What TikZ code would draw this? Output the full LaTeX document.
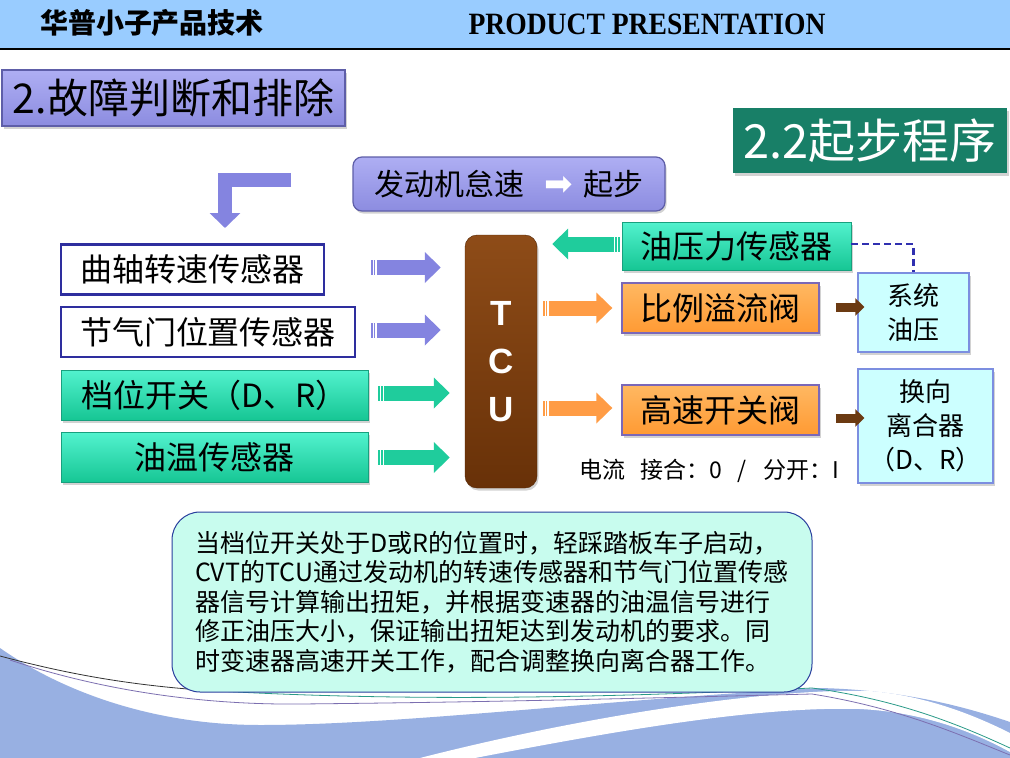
\documentclass[tikz,border=0pt]{standalone}
\usepackage{fontspec}
\setmainfont{Noto Sans CJK SC}
\newfontfamily\latinserif{Liberation Serif}
\newfontfamily\latinsans{Liberation Sans}
\newfontfamily\dingfont{DejaVu Sans}
\usetikzlibrary{arrows.meta,calc,shadows}
\definecolor{band}{HTML}{99CCFF}
\definecolor{lavtop}{HTML}{AEAEF3}
\definecolor{lavbot}{HTML}{8C8CE0}
\definecolor{lavedge}{HTML}{5E5EA8}
\definecolor{stepgreen}{HTML}{187F67}
\definecolor{sensorblue}{HTML}{2E2E9E}
\definecolor{greentop}{HTML}{52F2CE}
\definecolor{greenbot}{HTML}{16C694}
\definecolor{greenedge}{HTML}{18A07E}
\definecolor{orangetop}{HTML}{FFB862}
\definecolor{orangebot}{HTML}{FF9A33}
\definecolor{valveedge}{HTML}{7B68B8}
\definecolor{tcutop}{HTML}{8E4C18}
\definecolor{tcubot}{HTML}{683108}
\definecolor{infofill}{HTML}{CCFFFF}
\definecolor{infoedge}{HTML}{7C8EE0}
\definecolor{notefill}{HTML}{C8FCEE}
\definecolor{noteedge}{HTML}{2A3F9E}
\definecolor{arrowpurple}{HTML}{8484E0}
\definecolor{arrowgreen}{HTML}{1FCC9C}
\definecolor{arroworange}{HTML}{FF9C45}
\definecolor{arrowbrown}{HTML}{6B3A12}
\definecolor{dashblue}{HTML}{3030B0}
\definecolor{wave}{HTML}{98B0E2}
\definecolor{waveteal}{HTML}{2A9A88}
\definecolor{wavepurple}{HTML}{7C6FB0}
\newcommand{\setfs}[2]{\fontsize{#1}{#2}\selectfont}

\begin{document}
\begin{tikzpicture}[x=1pt,y=-1pt,
  every node/.style={inner sep=0pt},
  boxshadow/.style={drop shadow={shadow xshift=1.5pt,shadow yshift=-2.5pt,opacity=0.35}},
  sensorbox/.style={draw=sensorblue,line width=2.5pt,fill=white,minimum height=50pt,font=\setfs{32}{36}},
  greenbox/.style={draw=greenedge,line width=0.8pt,top color=greentop,bottom color=greenbot,minimum height=50pt,font=\setfs{32}{36},boxshadow},
  valvebox/.style={draw=valveedge,line width=1.3pt,top color=orangetop,bottom color=orangebot,minimum width=197pt,minimum height=50pt,font=\setfs{32}{36},boxshadow},
  infobox/.style={draw=infoedge,line width=1.2pt,fill=infofill,align=center,font=\setfs{26}{34},boxshadow},
  blockarrow/.style={line width=15pt,dash pattern=on 1.5pt off 1.2pt on 1.5pt off 1.5pt on 400pt,-{Triangle[length=16pt,width=30pt]}},
  brownarrow/.style={line width=9pt,draw=arrowbrown,-{Triangle[length=9pt,width=17pt]}},
]
  \fill[white] (0,0) rectangle (1010,758);
  \useasboundingbox (0,0) rectangle (1010,758);
  % bottom waves
  \fill[wave] (0,648) .. controls (60,690) and (150,725) .. (260,725)
    .. controls (400,725) and (600,700) .. (820,688)
    .. controls (900,690) and (960,705) .. (1010,722) -- (1010,758) -- (0,758) -- cycle;
  \fill[white] (420,758) .. controls (600,712) and (780,688) .. (870,691)
    .. controls (930,696) and (980,718) .. (1010,733) -- (1010,752)
    .. controls (970,730) and (920,712) .. (860,709)
    .. controls (760,706) and (620,730) .. (475,758) -- cycle;
  \draw[black!80,line width=0.8pt] (0,656) .. controls (60,672) and (120,684) .. (200,690);
  \draw[waveteal,line width=0.8pt] (200,690) .. controls (400,702) and (600,698) .. (812,688)
    .. controls (900,700) and (960,725) .. (1010,748);
  \draw[wavepurple,line width=0.8pt] (10,660) .. controls (100,690) and (200,705) .. (300,704)
    .. controls (500,702) and (650,698) .. (812,694)
    .. controls (900,708) and (960,735) .. (1010,755);
  % header
  \fill[band] (0,0) rectangle (1010,48);
  \draw[line width=1.5pt] (0,49) -- (1010,49);
  \node[font=\setfs{28}{28}\bfseries] (brand) at (152,23) {华普小子产品技术};
  \node (slogan) at (647,24) {\scalebox{0.89}[1]{\latinserif\bfseries\setfs{31}{31}PRODUCT PRESENTATION}};
  % titles
  \node[draw=lavedge,line width=1.5pt,top color=lavtop,bottom color=lavbot,minimum width=343pt,minimum height=56pt,font=\setfs{41}{41},boxshadow] (fault) at (173.5,98) {2.故障判断和排除};
  \node[fill=stepgreen,minimum width=274pt,minimum height=65pt,text=white,font=\setfs{47}{47},boxshadow] (start) at (870,140.5) {2.2起步程序};
  \node[draw=lavedge,line width=1.2pt,rounded corners=9pt,top color=lavtop,bottom color=lavbot,minimum width=312pt,minimum height=54pt,font=\setfs{30}{30},boxshadow] (idle) at (509,184)
    {发动机怠速\hspace{20pt}{\dingfont\color{white}\setfs{34}{34}➡}\hspace{10pt}起步};
  \coordinate (bendtail) at (291,180);
  \coordinate (bendtip) at (225,228);
  \draw[draw=arrowpurple,line width=14pt,line join=miter,-{Triangle[length=15pt,width=30pt]}] (bendtail) -| (bendtip);
  % inputs
  \node[sensorbox,minimum width=263pt] (crank) at (192.5,269.5) {曲轴转速传感器};
  \node[sensorbox,minimum width=294pt] (throttle) at (208,332) {节气门位置传感器};
  \node[greenbox,minimum width=307pt] (gear) at (214.5,395) {档位开关（D、R）};
  \node[greenbox,minimum width=307pt] (oiltemp) at (214.5,457.5) {油温传感器};
  % TCU
  \node[draw=tcubot!80!black,rounded corners=12pt,top color=tcutop,bottom color=tcubot,minimum width=72pt,minimum height=253pt,align=center,text=white,font=\latinsans\bfseries\setfs{35}{48},boxshadow] (tcu) at (501,361.5) {T\\C\\U};
  % outputs
  \node[greenbox,minimum width=229pt,minimum height=48pt] (press) at (736.5,246) {油压力传感器};
  \node[valvebox] (relief) at (720.5,308) {比例溢流阀};
  \node[valvebox] (hsv) at (720.5,410) {高速开关阀};
  \node[infobox,minimum width=111pt,minimum height=79pt] (sysp) at (913.5,312.5) {系统\\油压};
  \node[infobox,minimum width=135pt,minimum height=114pt] (clutch) at (925.5,426) {换向\\离合器\\（D、R）};
  \node[font=\setfs{23}{23}] (current) at (709,471) {电流\hspace{15pt}接合：0\hspace{16pt}/\hspace{16pt}分开：I};
  % arrows
  \draw[blockarrow,draw=arrowpurple,shorten <=46pt,shorten >=24pt] ([yshift=2pt]crank.east) -- ([yshift=2pt]crank.east -| tcu.west);
  \draw[blockarrow,draw=arrowpurple,shorten <=15pt,shorten >=24pt] ([yshift=2pt]throttle.east) -- ([yshift=2pt]throttle.east -| tcu.west);
  \draw[blockarrow,draw=arrowgreen,shorten <=10pt,shorten >=15pt] ([yshift=2pt]gear.east) -- ([yshift=2pt]gear.east -| tcu.west);
  \draw[blockarrow,draw=arrowgreen,shorten <=10pt,shorten >=15pt] (oiltemp.east) -- (oiltemp.east -| tcu.west);
  \draw[blockarrow,draw=arrowgreen,shorten <=2pt,shorten >=15pt] ([yshift=2pt]press.west) -- ([yshift=2pt]press.west -| tcu.east);
  \draw[blockarrow,draw=arroworange,shorten <=6pt,shorten >=9pt] (tcu.east |- relief.west) -- (relief.west);
  \draw[blockarrow,draw=arroworange,shorten <=6pt,shorten >=9pt] ([yshift=2pt]tcu.east |- hsv.west) -- ([yshift=2pt]hsv.west);
  \draw[brownarrow,shorten <=16pt,shorten >=-7pt] ([yshift=1pt]relief.east) -- ([yshift=1pt]relief.east -| sysp.west);
  \draw[brownarrow,shorten <=16pt,shorten >=-7pt] ([yshift=-8pt]hsv.east) -- ([yshift=-8pt]hsv.east -| clutch.west);
  \draw[dashblue,line width=2.5pt,dash pattern=on 7pt off 4pt] ([yshift=2pt]press.east) -| (sysp.north);
  % note
  \node[draw=noteedge,line width=1pt,fill=notefill,rounded corners=28pt,minimum width=640pt,minimum height=180pt,text width=594pt,align=left,font=\setfs{25}{29.5}] (note) at (492,602)
    {当档位开关处于D或R的位置时，轻踩踏板车子启动，\\
     CVT的TCU通过发动机的转速传感器和节气门位置传感\\
     器信号计算输出扭矩，并根据变速器的油温信号进行\\
     修正油压大小，保证输出扭矩达到发动机的要求。同\\
     时变速器高速开关工作，配合调整换向离合器工作。};
\end{tikzpicture}
\end{document}
